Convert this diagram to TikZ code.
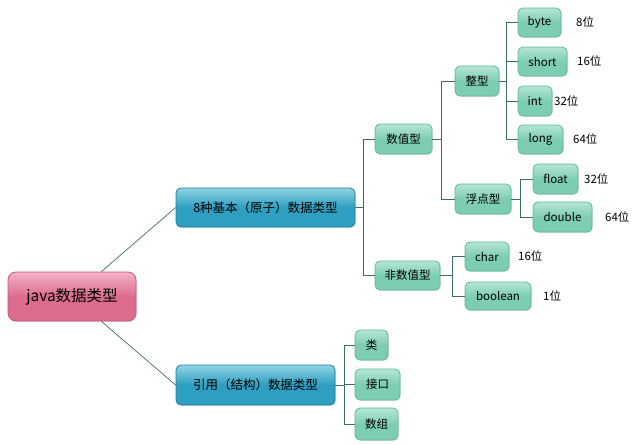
\documentclass[tikz,border=0pt]{standalone}
\usepackage{fontspec}
\setmainfont{Noto Sans CJK SC}
\usetikzlibrary{shadows}
\definecolor{linec}{HTML}{3E6B6B}
\definecolor{mint}{HTML}{7DCDB3}
\definecolor{mintl}{HTML}{B5E6D6}
\definecolor{mintd}{HTML}{5FB89C}
\definecolor{tealb}{HTML}{2E9FC0}
\definecolor{tealbl}{HTML}{8FD3E6}
\definecolor{tealbd}{HTML}{1D7F9E}
\definecolor{pinkr}{HTML}{DC6C8E}
\definecolor{pinkl}{HTML}{F3B3C6}
\definecolor{pinkd}{HTML}{C9557A}
\tikzset{
  box/.style={rounded corners=5pt, inner sep=0pt, align=center, text=black,
    drop shadow={shadow xshift=1pt, shadow yshift=-1pt, opacity=0.25}},
  leaf/.style={box, draw=mintd, line width=0.8pt, top color=mintl, bottom color=mint, middle color=mint, font=\fontsize{11.5}{13}\selectfont},
  mid/.style={box, draw=tealbd, line width=0.8pt, top color=tealbl, bottom color=tealb, middle color=tealb, font=\fontsize{12.5}{14}\selectfont},
  rootbox/.style={box, rounded corners=8pt, draw=pinkd, line width=0.8pt, top color=pinkl, bottom color=pinkr, middle color=pinkr, font=\fontsize{15.5}{18}\selectfont},
  bits/.style={anchor=west, inner sep=0pt, font=\fontsize{11.5}{13}\selectfont, text=black},
  conn/.style={draw=linec, line width=0.7pt},
}
\begin{document}
\begin{tikzpicture}[x=1pt,y=-1pt]
\useasboundingbox (0,0) rectangle (641,445);
% root
\node[rootbox, minimum width=128pt, minimum height=49pt] (root) at (72,296.5) {java数据类型};
% level 1
\node[mid, minimum width=179pt, minimum height=39pt] (A) at (265.5,207.5) {8种基本（原子）数据类型};
\node[mid, minimum width=159pt, minimum height=40pt] (B) at (255.5,385) {引用（结构）数据类型};
% level 2
\node[leaf, minimum width=57pt, minimum height=30pt] (num) at (403.5,139) {数值型};
\node[leaf, minimum width=65pt, minimum height=29pt] (nonnum) at (407.5,275.5) {非数值型};
\node[leaf, minimum width=44pt, minimum height=30pt] (int0) at (477,81) {整型};
\node[leaf, minimum width=56pt, minimum height=30pt] (flt) at (483,199) {浮点型};
% integers
\node[leaf, minimum width=43pt, minimum height=29pt] (byte) at (539.5,22.5) {byte};
\node[leaf, minimum width=49pt, minimum height=29pt] (short) at (542.5,61.5) {short};
\node[leaf, minimum width=34pt, minimum height=30pt] (int) at (535,101) {int};
\node[leaf, minimum width=45pt, minimum height=29pt] (long) at (540.5,139.5) {long};
\node[bits] (b8) at (576,22.5) {8位};
\node[bits] (b16) at (577,61.5) {16位};
\node[bits] (b32) at (554,101) {32位};
\node[bits] (b64) at (573,139.5) {64位};
% floats
\node[leaf, minimum width=45pt, minimum height=30pt] (float) at (555.5,179) {float};
\node[leaf, minimum width=59pt, minimum height=30pt] (double) at (562.5,217) {double};
\node[bits] (f32) at (584,179) {32位};
\node[bits] (d64) at (605,217) {64位};
% non numeric
\node[leaf, minimum width=44pt, minimum height=29pt] (char) at (487,256.5) {char};
\node[leaf, minimum width=66pt, minimum height=28pt] (bool) at (498,296) {boolean};
\node[bits] (c16) at (518,256.5) {16位};
\node[bits] (b1) at (543,296) {1位};
% reference types
\node[leaf, minimum width=33pt, minimum height=30pt] (cls) at (371.5,345) {类};
\node[leaf, minimum width=45pt, minimum height=31pt] (ifc) at (377.5,384.5) {接口};
\node[leaf, minimum width=43pt, minimum height=32pt] (arr) at (376.5,424) {数组};
% connectors
\draw[conn] (root.north east) ++(-35,0) coordinate (r1) -- (A.west);
\draw[conn] (root.south east) ++(-35,0) coordinate (r2) -- (B.west);
\draw[conn] (A.east) -| (363,139) -- (num.west);
\draw[conn] (363,207.5) |- (nonnum.west);
\draw[conn] (num.east) -- (441,139);
\draw[conn] (441,139) |- (int0.west);
\draw[conn] (441,139) |- (flt.west);
\draw[conn] (int0.east) -- (506,81);
\draw[conn] (506,81) |- (byte.west);
\draw[conn] (506,81) |- (short.west);
\draw[conn] (506,81) |- (int.west);
\draw[conn] (506,81) |- (long.west);
\draw[conn] (flt.east) -- (520,199);
\draw[conn] (520,199) |- (float.west);
\draw[conn] (520,199) |- (double.west);
\draw[conn] (nonnum.east) -- (452,275.5);
\draw[conn] (452,275.5) |- (char.west);
\draw[conn] (452,275.5) |- (bool.west);
\draw[conn] (B.east) -- (344,385);
\draw[conn] (344,385) |- (cls.west);
\draw[conn] (344,385) |- (ifc.west);
\draw[conn] (344,385) |- (arr.west);
\end{tikzpicture}
\end{document}
